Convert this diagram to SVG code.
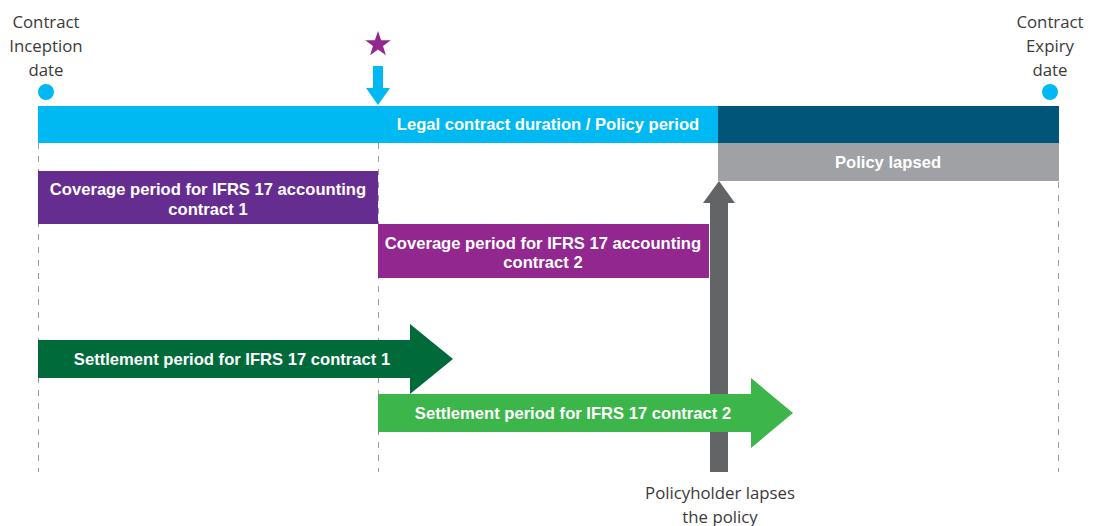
<svg xmlns="http://www.w3.org/2000/svg" width="1096" height="526" viewBox="0 0 1096 526">
  <style>
    .lbl { font-family: "Open Sans", "Liberation Sans", sans-serif; font-size: 16.8px; fill: #3a3a3a; text-anchor: middle; }
    .bar { font-family: "Liberation Sans", "DejaVu Sans", sans-serif; font-weight: bold; font-size: 16.6px; fill: #ffffff; text-anchor: middle; }
    .guide { stroke: #9a9a9a; stroke-width: 1; stroke-dasharray: 6 7; fill: none; }
  </style>
  <rect width="1096" height="526" fill="#ffffff"/>

  <!-- vertical guide lines -->
  <g id="connectors">
    <line class="guide" x1="38.5" y1="143" x2="38.5" y2="472"/>
    <line class="guide" x1="378.5" y1="143" x2="378.5" y2="472"/>
    <line class="guide" x1="1058.5" y1="143" x2="1058.5" y2="472"/>
    <!-- lapse arrow -->
    <path id="lapse-arrow" d="M710,472 L710,203 L703,203 L719,181 L735,203 L728,203 L728,472 Z" fill="#636466"/>
    <!-- marker arrow below star -->
    <path d="M373,66 L383,66 L383,88 L390,88 L378,105 L366,88 L373,88 Z" fill="#00b9f2"/>
  </g>

  <g id="inception">
    <text class="lbl" x="46" y="28">Contract</text>
    <text class="lbl" x="46" y="52">Inception</text>
    <text class="lbl" x="46" y="76">date</text>
    <circle cx="46" cy="92" r="8" fill="#00b9f2"/>
  </g>

  <g id="expiry">
    <text class="lbl" x="1050" y="28">Contract</text>
    <text class="lbl" x="1050" y="52">Expiry</text>
    <text class="lbl" x="1050" y="76">date</text>
    <circle cx="1050" cy="92" r="8" fill="#00b9f2"/>
  </g>

  <g id="star">
    <polygon points="378,31 381.1,40.2 390.8,40.2 383,46 385.9,55.2 378,49.6 370.1,55.2 373,46 365.2,40.2 374.9,40.2" fill="#92278f"/>
  </g>

  <g id="legal-duration">
    <rect x="38" y="106" width="680" height="37" fill="#00b9f2"/>
    <rect x="718" y="106" width="341" height="37" fill="#005578"/>
    <text class="bar" x="548" y="130">Legal contract duration / Policy period</text>
  </g>

  <g id="policy-lapsed">
    <rect x="718" y="143" width="341" height="38" fill="#a0a1a4"/>
    <text class="bar" x="888" y="168">Policy lapsed</text>
  </g>

  <g id="coverage-1">
    <rect x="38" y="171" width="340" height="53" fill="#662d91"/>
    <text class="bar" x="208" y="195">Coverage period for IFRS 17 accounting</text>
    <text class="bar" x="208" y="215">contract 1</text>
  </g>

  <g id="coverage-2">
    <rect x="378" y="224" width="331" height="54" fill="#92278f"/>
    <text class="bar" x="543" y="249">Coverage period for IFRS 17 accounting</text>
    <text class="bar" x="543" y="268">contract 2</text>
  </g>

  <g id="settlement-1">
    <path d="M38,340 L410,340 L410,324 L453,359 L410,394 L410,378 L38,378 Z" fill="#006a3b"/>
    <text class="bar" x="232" y="365">Settlement period for IFRS 17 contract 1</text>
  </g>

  <g id="settlement-2">
    <path d="M378,394 L751,394 L751,378 L793,413 L751,448 L751,432 L378,432 Z" fill="#3cb54a"/>
    <text class="bar" x="573" y="419">Settlement period for IFRS 17 contract 2</text>
  </g>

  <g id="lapse-note">
    <text class="lbl" x="720" y="499">Policyholder lapses</text>
    <text class="lbl" x="720" y="523">the policy</text>
  </g>
</svg>
